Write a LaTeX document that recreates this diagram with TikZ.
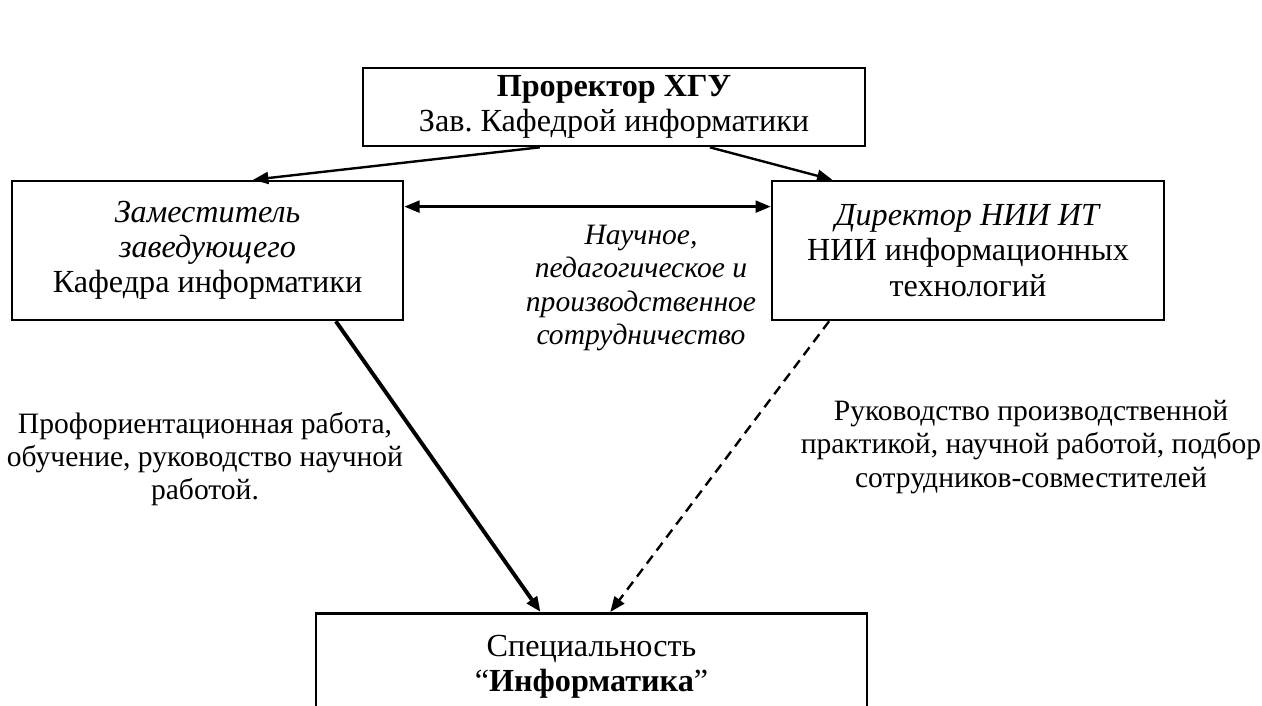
\documentclass[tikz,border=0pt]{standalone}
\usepackage{fontspec}
\setmainfont{Liberation Serif}
\usetikzlibrary{arrows.meta,calc}

\tikzset{
  box/.style={draw, line width=1.2pt, align=center, inner sep=0pt,
    font=\fontsize{14.8}{16.2}\selectfont},
  link/.style={-{Triangle[length=7pt,width=5.5pt]}, line width=1.1pt},
  txt/.style={align=center, font=\fontsize{13.6}{15.3}\selectfont},
}

\begin{document}
\frenchspacing
\begin{tikzpicture}[x=0.46pt, y=-0.46pt]
		\useasboundingbox (0,0) rectangle (1262,706);
		\clip (0,0) rectangle (1262,706);
		% блоки
		\node[box, minimum width=230.9pt, minimum height=35.9pt] (prorector) at (614,107)
			{\textbf{Проректор ХГУ}\\Зав. Кафедрой информатики};
		\node[box, minimum width=179.9pt, minimum height=63.9pt] (deputy) at (207.5,250.5)
			{\textit{Заместитель}\\\textit{заведующего}\\Кафедра информатики};
		\node[box, minimum width=180.3pt, minimum height=63.9pt] (director) at (968,250.5)
			{\textit{Директор НИИ ИТ}\\НИИ информационных\\технологий};
		\node[box, anchor=north, minimum width=253.5pt, inner ysep=10pt, text depth=60pt] (speciality) at (591.5,612)
			{Специальность\\“\textbf{Информатика}”};
		% связи
		\draw[link] ($(prorector.south west)!0.353!(prorector.south east)$)
			-- ($(deputy.north west)!0.616!(deputy.north east)$);
		\draw[link] ($(prorector.south west)!0.69!(prorector.south east)$)
			-- ($(director.north west)!0.156!(director.north east)$);
		\draw[link, {Triangle[length=7pt,width=5.5pt]}-{Triangle[length=7pt,width=5.5pt]}]
			($(deputy.north east)!0.19!(deputy.south east)$)
			-- ($(director.north west)!0.19!(director.south west)$);
		\draw[link, line width=1.8pt] ($(deputy.south west)!0.826!(deputy.south east)$)
			-- ($(speciality.north west)!0.408!(speciality.north east)$);
		\draw[link, dash pattern=on 4.5pt off 3pt] ($(director.south west)!0.148!(director.south east)$)
			-- ($(speciality.north west)!0.534!(speciality.north east)$);
		% подписи
		\node[txt, font=\fontsize{13.6}{15.3}\selectfont\itshape] (cooperation) at (641,288)
			{Научное,\\педагогическое и\\производственное\\сотрудничество};
		\node[txt] (teaching) at (205,459)
			{Профориентационная работа,\\обучение, руководство научной\\работой.};
		\node[txt] (practice) at (1031,447)
			{Руководство производственной\\практикой, научной работой, подбор\\сотрудников-совместителей};
\end{tikzpicture}
\end{document}
